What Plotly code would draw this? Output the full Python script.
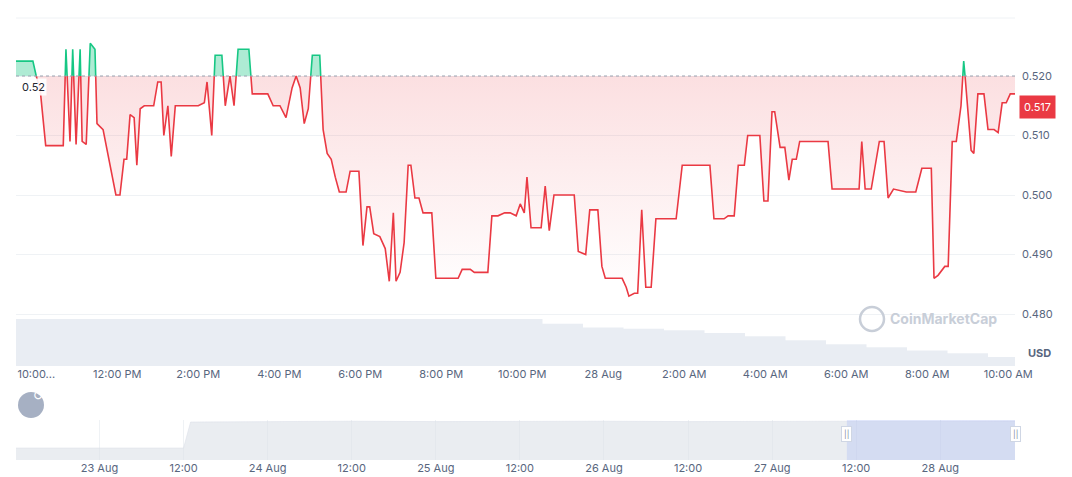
import numpy as np
import pandas as pd
import plotly.graph_objects as go

# minutes after 2024-08-27 09:30
minutes = [0,25,30,36,44,70,74,80,84,89,95,98,104,110,117,120,129,136,148,154,160,164,169,175,179,184,190,204,210,215,219,225,230,236,270,279,283,290,295,305,310,317,323,329,345,350,373,381,391,400,409,415,421,427,433,439,450,455,461,467,473,479,489,495,508,514,520,524,530,539,547,553,559,563,569,575,581,585,591,597,603,616,622,655,661,673,679,699,705,714,724,732,741,747,753,757,763,778,784,790,797,827,833,844,850,862,868,873,898,904,908,916,921,927,933,941,948,978,987,1022,1028,1034,1049,1055,1064,1070,1079,1084,1099,1102,1108,1114,1120,1124,1132,1139,1145,1150,1156,1161,1203,1209,1249,1253,1258,1267,1279,1286,1292,1300,1319,1333,1342,1348,1356,1360,1366,1376,1381,1387,1393,1400,1404,1410,1415,1419,1425,1434,1440,1449,1455,1461,1467,1473,1480]
prices = [0.5225,0.5225,0.5200,0.5175,0.5083,0.5083,0.5245,0.5090,0.5245,0.5085,0.5245,0.5090,0.5085,0.5255,0.5245,0.5120,0.5110,0.5070,0.5000,0.5000,0.5060,0.5060,0.5135,0.5130,0.5050,0.5145,0.5150,0.5150,0.5190,0.5190,0.5100,0.5150,0.5065,0.5150,0.5150,0.5155,0.5190,0.5100,0.5235,0.5235,0.5150,0.5200,0.5150,0.5245,0.5245,0.5170,0.5170,0.5150,0.5150,0.5130,0.5180,0.5200,0.5180,0.5120,0.5145,0.5235,0.5235,0.5110,0.5070,0.5060,0.5030,0.5005,0.5005,0.5040,0.5040,0.4915,0.4980,0.4980,0.4935,0.4930,0.4910,0.4855,0.4970,0.4855,0.4870,0.4920,0.5050,0.5050,0.4995,0.4995,0.4970,0.4970,0.4860,0.4860,0.4875,0.4875,0.4870,0.4870,0.4965,0.4965,0.4970,0.4970,0.4965,0.4985,0.4970,0.5030,0.4945,0.4945,0.5015,0.4940,0.5000,0.5000,0.4905,0.4900,0.4975,0.4975,0.4880,0.4860,0.4860,0.4845,0.4830,0.4835,0.4835,0.4975,0.4845,0.4845,0.4960,0.4960,0.5050,0.5050,0.5050,0.4960,0.4960,0.4965,0.4965,0.5050,0.5050,0.5100,0.5100,0.5100,0.4990,0.4990,0.5140,0.5140,0.5080,0.5080,0.5025,0.5060,0.5060,0.5090,0.5090,0.5010,0.5010,0.5090,0.5010,0.5010,0.5090,0.5090,0.4995,0.5010,0.5005,0.5005,0.5045,0.5045,0.5045,0.4860,0.4865,0.4880,0.4880,0.5090,0.5090,0.5150,0.5225,0.5150,0.5075,0.5070,0.5170,0.5170,0.5110,0.5110,0.5105,0.5155,0.5155,0.5170,0.5170]
baseline = 0.52
vol_hours = list(range(0, 26))
vol_values = [100,100,100,100,100,100,100,100,100,100,100,100,100,90,82,79,76,70,63,55,46,40,33,27,19,17]
nav_hours = [-12,0,1,12,13,24,36,48,60,72,84,96,108,120,130,142]  # hours after 2024-08-23 00:00
nav_values = [30,30,30,30,95,96,97,96,97,97,96,97,97,97,98,98]

t0 = pd.Timestamp("2024-08-27 09:30")
tm, pm = [], []
for i in range(len(minutes)):
    if i > 0:
        a, b = prices[i-1], prices[i]
        if (a - baseline) * (b - baseline) < 0:
            f = (baseline - a) / (b - a)
            tm.append(minutes[i-1] + f * (minutes[i] - minutes[i-1])); pm.append(baseline)
    tm.append(minutes[i]); pm.append(prices[i])
tm = np.array(tm); pm = np.array(pm)
tt = t0 + pd.to_timedelta(tm, unit="m")
red_line = np.where(pm <= baseline, pm, np.nan)
grn_line = np.where(pm >= baseline, pm, np.nan)
RED = "#ea3943"; GRN = "#16c784"

fig = go.Figure()
fig.add_trace(go.Scatter(x=t0 + pd.to_timedelta(np.array(vol_hours)*60, unit="m"), y=vol_values, yaxis="y2",
                         mode="lines", line=dict(width=0, shape="hv"), fill="tozeroy", fillcolor="rgba(207,214,228,0.45)", hoverinfo="skip"))
fig.add_trace(go.Scatter(x=tt, y=np.full(len(tt), baseline), mode="lines", line=dict(width=0), hoverinfo="skip"))
fig.add_trace(go.Scatter(x=tt, y=np.minimum(pm, baseline), mode="lines", line=dict(width=0), fill="tonexty",
                         fillgradient=dict(type="vertical", colorscale=[[0, "rgba(234,57,67,0.0)"], [1, "rgba(234,57,67,0.16)"]]), hoverinfo="skip"))
fig.add_trace(go.Scatter(x=tt, y=np.full(len(tt), baseline), mode="lines", line=dict(width=0), hoverinfo="skip"))
fig.add_trace(go.Scatter(x=tt, y=np.maximum(pm, baseline), mode="lines", line=dict(width=0), fill="tonexty",
                         fillcolor="rgba(22,199,132,0.35)", hoverinfo="skip"))
fig.add_trace(go.Scatter(x=tt, y=red_line, mode="lines", line=dict(color=RED, width=1.6)))
fig.add_trace(go.Scatter(x=tt, y=grn_line, mode="lines", line=dict(color=GRN, width=1.6)))

nav_t = pd.Timestamp("2024-08-23") + pd.to_timedelta(np.array(nav_hours), unit="h")
fig.add_trace(go.Scatter(x=nav_t, y=nav_values, xaxis="x3", yaxis="y3", mode="lines", line=dict(width=0.5, color="#d8dde6"),
                         fill="tozeroy", fillcolor="rgba(220,225,232,0.6)", hoverinfo="skip"))

tick_t = [pd.Timestamp("2024-08-27 10:00") + pd.Timedelta(hours=2*k) for k in range(13)]
tick_txt = ["10:00...", "12:00 PM", "2:00 PM", "4:00 PM", "6:00 PM", "8:00 PM", "10:00 PM", "28 Aug", "2:00 AM", "4:00 AM", "6:00 AM", "8:00 AM", "10:00 AM"]
nav_ticks = [pd.Timestamp("2024-08-23") + pd.Timedelta(hours=12*k) for k in range(11)]
nav_txt = ["23 Aug", "12:00", "24 Aug", "12:00", "25 Aug", "12:00", "26 Aug", "12:00", "27 Aug", "12:00", "28 Aug"]

W, H = 1072, 477
xd = [8/W, 1007/W]
gray = "#58667e"
fig.update_layout(
    width=W, height=H, margin=dict(l=0, r=0, t=0, b=0, autoexpand=False), showlegend=False,
    plot_bgcolor="white", paper_bgcolor="white",
    font=dict(family="Inter", size=11, color=gray),
    xaxis=dict(domain=xd, range=[t0, t0 + pd.Timedelta(minutes=1480)], tickvals=tick_t, ticktext=tick_txt,
               showgrid=False, ticks="", showline=False, zeroline=False, automargin=False),
    yaxis=dict(domain=[(H-358)/H, (H-10)/H], range=[0.47126, 0.52975], side="right", tickvals=[0.48, 0.49, 0.5, 0.51, 0.52],
               tickformat=".3f", gridcolor="#eff2f5", zeroline=False, ticks="", ticklabelstandoff=6, automargin=False),
    yaxis2=dict(overlaying="y", range=[0, 740], visible=False),
    xaxis3=dict(domain=xd, anchor="y3", range=[pd.Timestamp("2024-08-22 12:05"), pd.Timestamp("2024-08-28 10:40")],
                tickvals=nav_ticks, ticktext=nav_txt, showgrid=True, gridcolor="#eff2f5", ticks="", zeroline=False, automargin=False),
    yaxis3=dict(domain=[25/H, 65/H], range=[0, 100], visible=False),
)
fig.add_shape(type="line", xref="paper", x0=xd[0], x1=xd[1], y0=baseline, y1=baseline, yref="y",
              line=dict(color="#9aa3b1", width=1, dash="dot"))
fig.add_shape(type="line", xref="paper", x0=xd[0], x1=xd[1], yref="paper", y0=(H-10)/H, y1=(H-10)/H, line=dict(color="#eff2f5", width=1))
fig.add_shape(type="rect", xref="x3", yref="paper", x0=pd.Timestamp("2024-08-27 10:40"), x1=pd.Timestamp("2024-08-28 10:40"),
              y0=25/H, y1=65/H, fillcolor="rgba(56,97,251,0.12)", line=dict(width=0))
for xx in [pd.Timestamp("2024-08-27 10:40"), pd.Timestamp("2024-08-28 10:40")]:
    fig.add_annotation(x=xx, xref="x3", y=43/H, yref="paper", text="||", showarrow=False, font=dict(size=8, color="#808a9d"),
                       bgcolor="white", bordercolor="#cfd6e4", borderwidth=1, borderpad=2)
fig.add_annotation(x=12/W, y=(H-70)/H, xref="paper", yref="paper", text="0.52", showarrow=False, xanchor="left",
                   font=dict(size=11, color="#222531"), bgcolor="rgba(255,255,255,0.9)")
fig.add_annotation(x=1011/W, y=(H-87)/H, xref="paper", yref="paper", text="0.517", showarrow=False, xanchor="left",
                   font=dict(size=11, color="white"), bgcolor=RED, borderpad=4)
fig.add_annotation(x=1018/W, y=(H-354)/H, xref="paper", yref="paper", text="<b>USD</b>", showarrow=False, xanchor="left",
                   font=dict(size=11, color=gray))
fig.add_annotation(x=880/W, y=(H-311)/H, xref="paper", yref="paper", text="<b>CoinMarketCap</b>", showarrow=False, xanchor="left",
                   font=dict(size=14, color="#c8ced8"))
fig.add_shape(type="circle", xref="paper", yref="paper", x0=852/W, x1=876/W, y0=(H-323)/H, y1=(H-299)/H,
              line=dict(color="#c8ced8", width=2.5))
fig.add_shape(type="circle", xref="paper", yref="paper", x0=10/W, x1=36/W, y0=(H-410)/H, y1=(H-384)/H,
              fillcolor="#a6b0c3", line=dict(width=0))
fig.add_annotation(x=23/W, y=(H-397)/H, xref="paper", yref="paper", text="↺", showarrow=False, font=dict(size=13, color="white", family="DejaVu Sans"))
fig.write_html("out.html")
